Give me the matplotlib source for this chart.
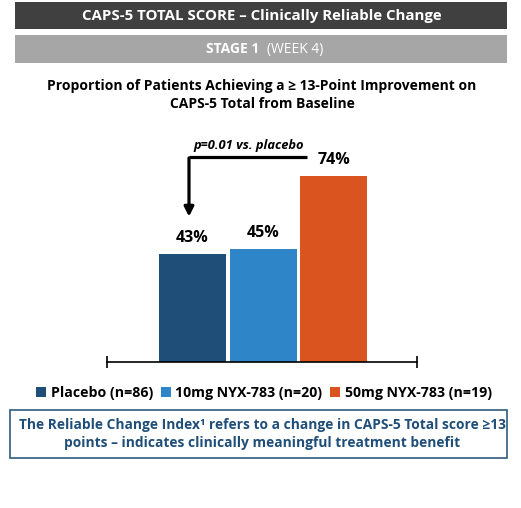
import matplotlib.pyplot as plt
from matplotlib.patches import Rectangle, Patch

plt.rcParams['font.family'] = ['Open Sans', 'DejaVu Sans']

groups = ['Placebo (n=86)', '10mg NYX-783 (n=20)', '50mg NYX-783 (n=19)']
values = [43, 45, 74]
value_labels = ['43%', '45%', '74%']
colors = ['#1f4e79', '#2e86c9', '#d9541e']

W, H = 521, 508
fig = plt.figure(figsize=(W / 100, H / 100), dpi=100)

def fx(px):
    return px / W

def fy(py):
    return 1 - py / H

# banners
fig.patches.append(Rectangle((fx(15), fy(29)), fx(492), 27 / H, transform=fig.transFigure,
                             facecolor='#404040', edgecolor='none'))
fig.text(fx(262), fy(16), 'CAPS-5 TOTAL SCORE \u2013 Clinically Reliable Change', color='white',
         fontsize=10.8, fontweight='bold', ha='center', va='center')
fig.patches.append(Rectangle((fx(15), fy(63)), fx(492), 28 / H, transform=fig.transFigure,
                             facecolor='#a6a6a6', edgecolor='none'))
fig.text(fx(259), fy(49), 'STAGE 1', color='white', fontsize=10, fontweight='bold',
         ha='right', va='center')
fig.text(fx(267), fy(49), '(WEEK 4)', color='white', fontsize=10, ha='left', va='center')

fig.text(fx(262), fy(95), 'Proportion of Patients Achieving a \u2265 13-Point Improvement on\nCAPS-5 Total from Baseline',
         fontsize=10, fontweight='bold', ha='center', va='center', linespacing=1.3)

# bars
ax = fig.add_axes([fx(107), 1 - 362 / H, fx(310), 251 / H])
x = list(range(len(values)))
ax.bar(x, values, width=0.95, color=colors)
ax.set_xlim(-1.213, 3.184)
ax.set_ylim(0, 100)
for xi, v, lab in zip(x, values, value_labels):
    ax.text(xi, v + 3.3, lab, ha='center', va='bottom', fontsize=11.5, fontweight='bold')

for s in ['top', 'right', 'left']:
    ax.spines[s].set_visible(False)
ax.spines['bottom'].set_linewidth(1.2)
ax.set_yticks([])
ax.set_xticks([-1.213, 3.184])
ax.set_xticklabels([])
ax.tick_params(axis='x', direction='inout', length=8, width=1.2)

# significance arrow
ax.plot([1.62, -0.05], [81.6, 81.6], color='black', lw=2.3, solid_capstyle='butt')
ax.annotate('', xy=(-0.05, 56.8), xytext=(-0.05, 82.4),
            arrowprops=dict(arrowstyle='-|>', color='black', lw=2.3, mutation_scale=14))
ax.text(0.8, 83.5, 'p=0.01 vs. placebo', ha='center', va='bottom', fontsize=9.3,
        fontweight='bold', style='italic')

# legend
handles = [Patch(facecolor=c) for c in colors]
fig.legend(handles, groups, loc='center', bbox_to_anchor=(fx(264), fy(393)), ncol=3,
           frameon=False, handlelength=0.7, handleheight=0.7, handletextpad=0.35,
           columnspacing=0.5, prop={'weight': 'bold', 'size': 10.2})

# note box
fig.patches.append(Rectangle((fx(10), fy(458)), fx(497), 48 / H, transform=fig.transFigure,
                             facecolor='white', edgecolor='#2e5e7e', lw=1.2))
fig.text(fx(262), fy(434), 'The Reliable Change Index\u00b9 refers to a change in CAPS-5 Total score \u226513\npoints \u2013 indicates clinically meaningful treatment benefit',
         color='#1f4e79', fontsize=9.9, fontweight='bold', ha='center', va='center', linespacing=1.3)

fig.savefig('out.png', dpi=100)
